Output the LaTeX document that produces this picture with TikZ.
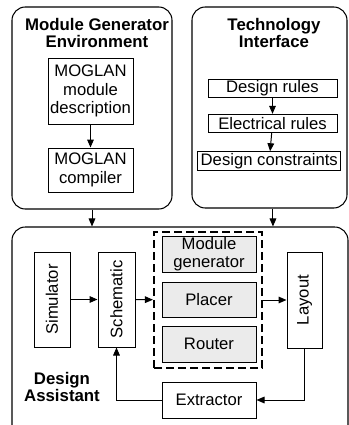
\documentclass[tikz,border=0pt]{standalone}
\usepackage{fontspec}
\setmainfont{Liberation Sans}
\usetikzlibrary{arrows.meta}
\begin{document}
\begin{tikzpicture}[x=0.75pt,y=-0.75pt,
  every node/.style={font=\fontsize{12.5}{13.75}\selectfont},
  panel/.style={draw,line width=0.8pt,rounded corners=10pt,inner sep=0pt},
  box/.style={draw,line width=0.75pt,inner sep=0pt,align=center},
  graybox/.style={box,fill=black!8},
  vbox/.style={box},
  title/.style={font=\bfseries\fontsize{12.6}{13.25}\selectfont,align=center,inner sep=0pt},
  group/.style={draw,line width=1.6pt,dash pattern=on 6pt off 3pt,inner sep=0pt},
  arr/.style={line width=0.75pt,-{Triangle[length=6pt,width=5pt]}}]
\useasboundingbox (0,0) rectangle (349,425);
\clip (0,0) rectangle (349,425);

% Module generator environment
\node[panel,minimum width=120pt,minimum height=151.5pt] (mge) at (92,108) {};
\node[title] (mgetitle) at (97,33) {Module Generator\\Environment};
\node[box,minimum width=63.75pt,minimum height=49.5pt] (desc) at (90.5,91) {MOGLAN\\module\\description};
\node[box,minimum width=63.75pt,minimum height=33pt] (comp) at (90.5,170) {MOGLAN\\compiler};
\draw[arr] (desc) -- (comp);

% Technology interface
\node[panel,minimum width=116.25pt,minimum height=150.75pt] (ti) at (269.5,107.5) {};
\node[title] (tititle) at (274,33) {Technology\\Interface};
\node[box,minimum width=96.75pt,minimum height=13.5pt] (drules) at (272.5,88) {Design rules};
\node[box,minimum width=96.75pt,minimum height=13.75pt] (erules) at (272.5,123.5) {Electrical rules};
\node[box,minimum width=107.25pt,minimum height=14.25pt] (dcons) at (269.25,161.25) {Design constraints};
\draw[arr] (drules) -- (erules);
\draw[arr] (erules) -- (dcons);

% Design assistant
\node[panel,minimum width=252pt,minimum height=159.75pt] (da) at (180,333.5) {};
\node[title] (datitle) at (62,387) {Design\\Assistant};
\node[vbox,minimum width=27pt,minimum height=71.25pt] (sim) at (52,299.5) {};
\node[rotate=90] (simtext) at (sim) {Simulator};
\node[vbox,minimum width=27.75pt,minimum height=71.25pt] (sch) at (116.5,299.5) {};
\node[rotate=90] (schtext) at (sch) {Schematic};
\node[group,minimum width=81pt,minimum height=102pt] (tools) at (208,300) {};
\node[graybox,minimum width=70.5pt,minimum height=27pt] (modgen) at (209,254) {Module\\generator};
\node[graybox,minimum width=70.5pt,minimum height=26.25pt] (placer) at (209,299.5) {Placer};
\node[graybox,minimum width=70.5pt,minimum height=27pt] (router) at (209,344) {Router};
\node[vbox,minimum width=26.25pt,minimum height=72pt] (layout) at (304.5,300) {};
\node[rotate=90] (laytext) at (layout) {Layout};
\node[box,minimum width=70.5pt,minimum height=27pt] (ext) at (209,400) {Extractor};

\draw[arr] (mge.south) -- (mge.south |- da.north);
\draw[arr] ([xshift=2.6pt]ti.south) -- ([xshift=2.6pt]ti.south |- da.north);
\draw[arr] (sim) -- (sch);
\draw[arr] (sch) -- (tools);
\draw[arr] (tools) -- (layout);
\draw[arr] (layout.south) |- (ext.east);
\draw[arr] (ext.west) -| (sch.south);
\end{tikzpicture}
\end{document}
